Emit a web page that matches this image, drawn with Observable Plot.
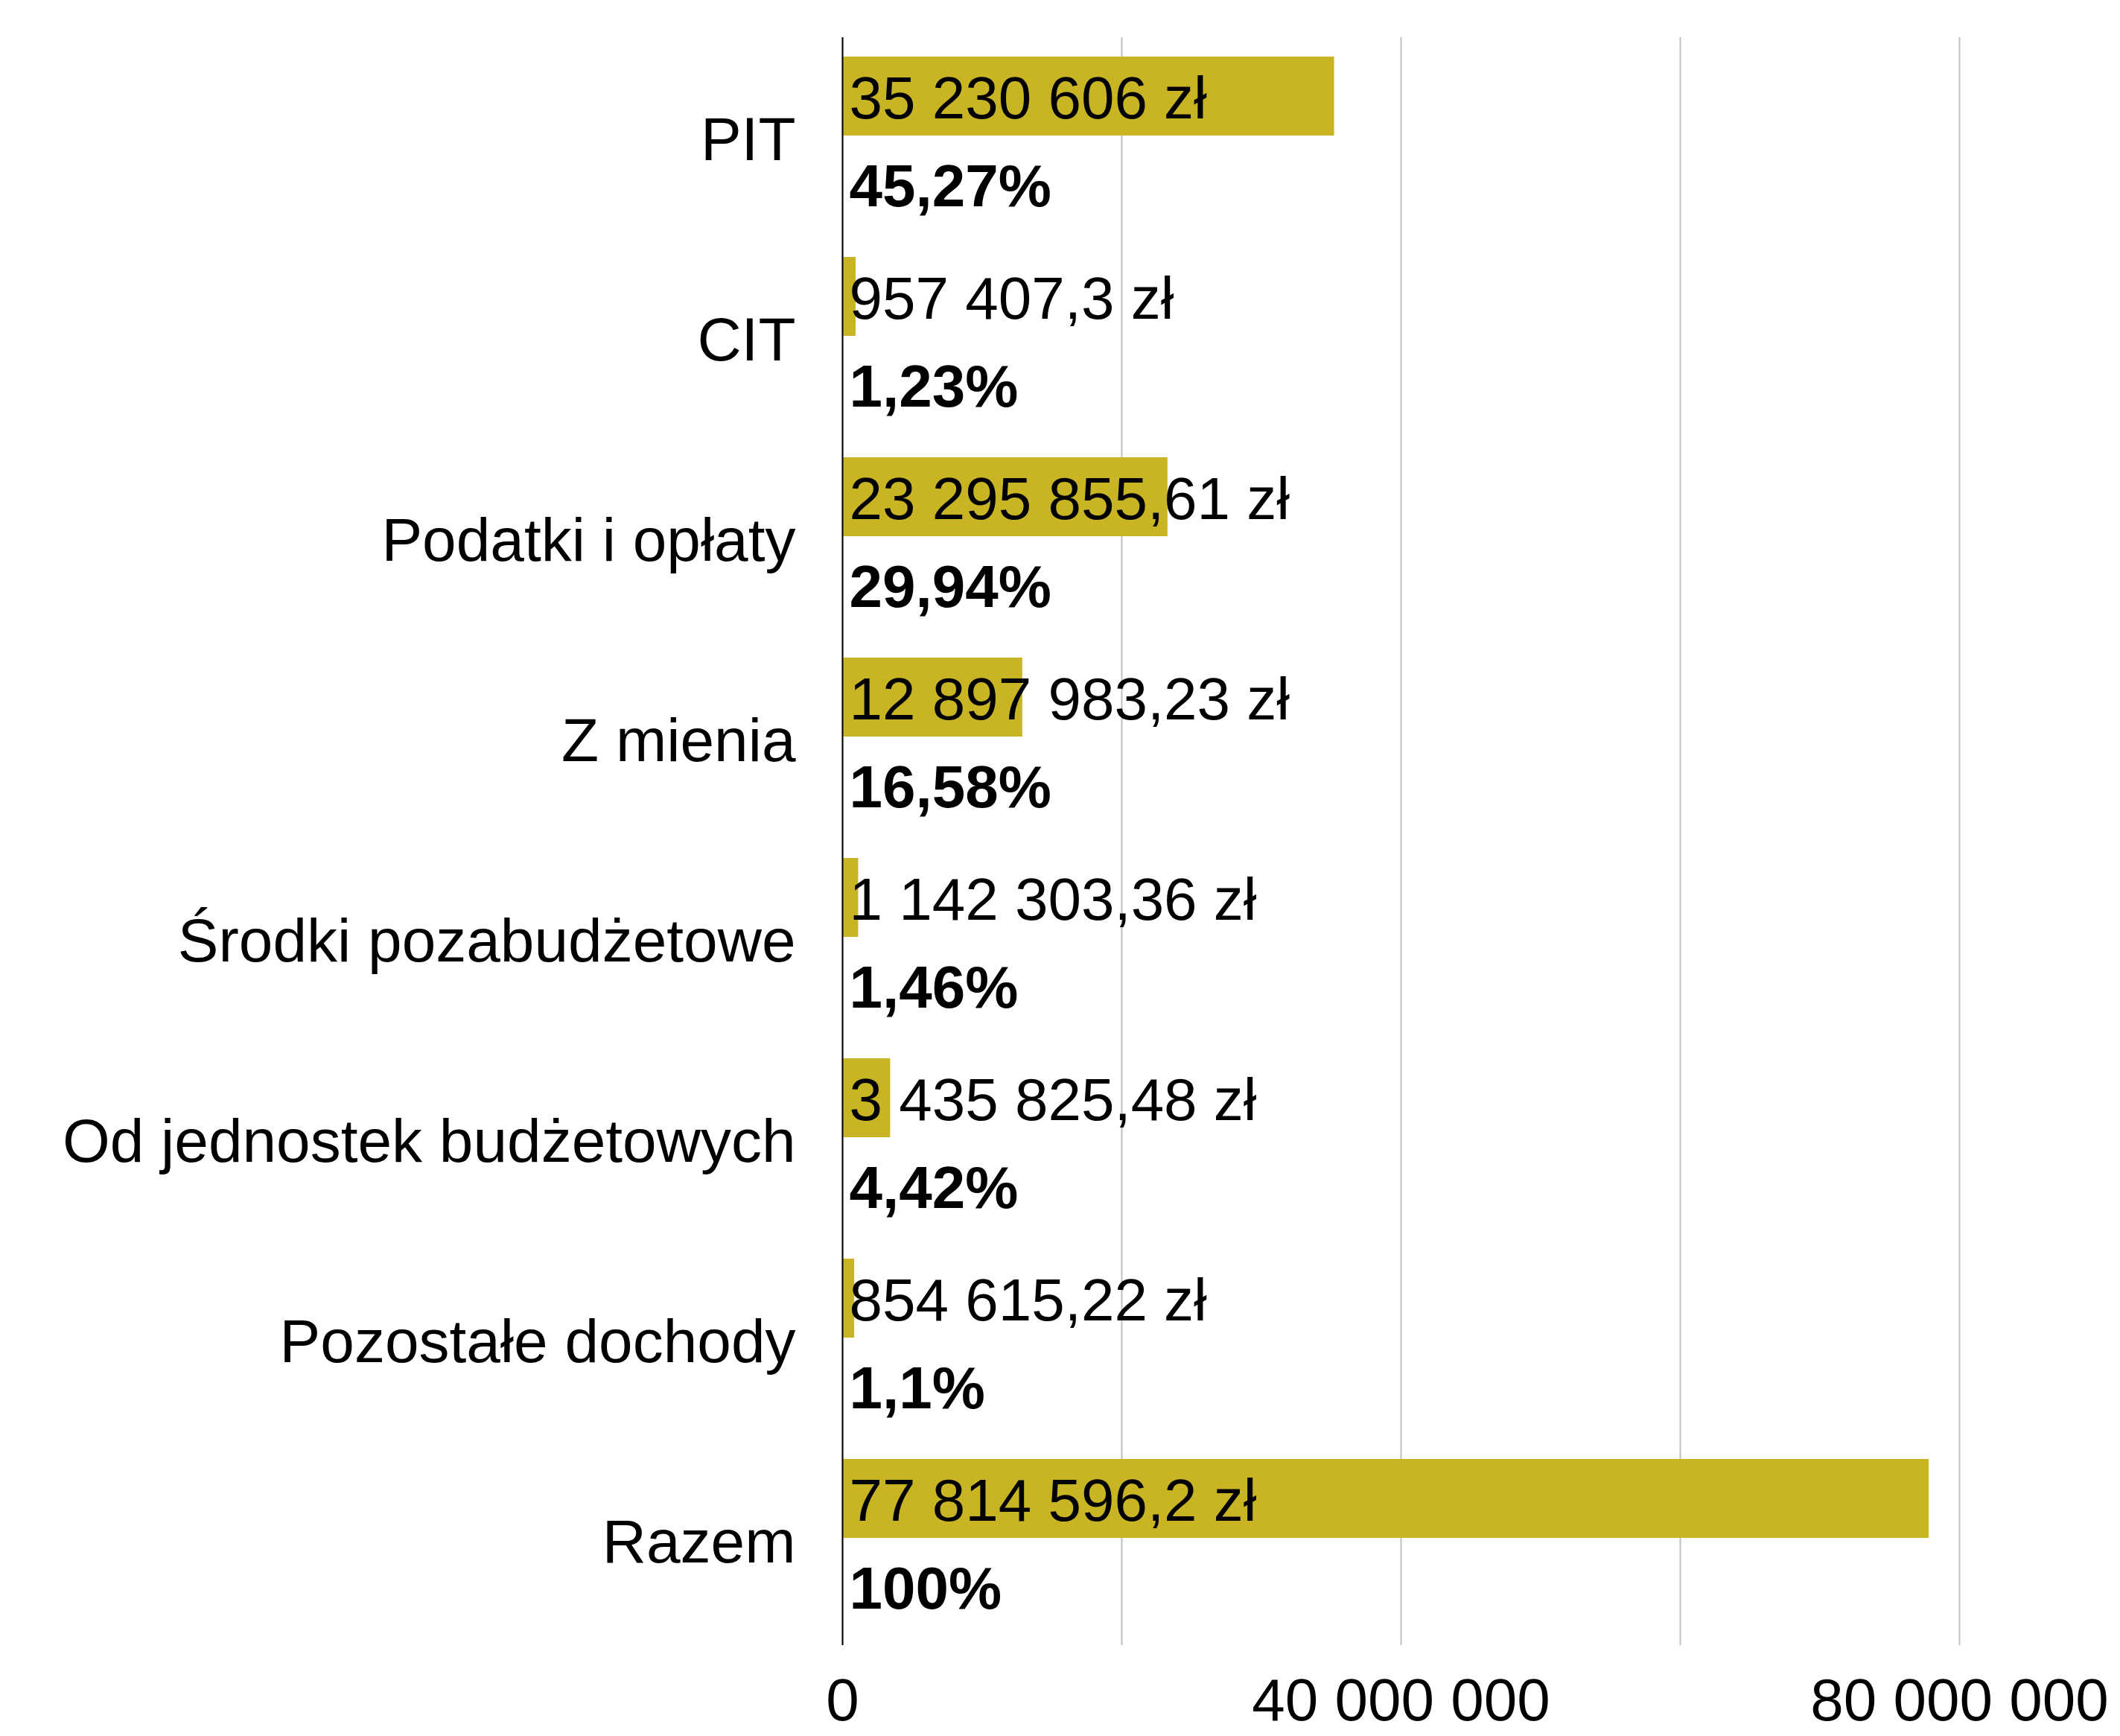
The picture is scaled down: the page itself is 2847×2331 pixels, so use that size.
<!DOCTYPE html>
<html>
<head>
<meta charset="utf-8">
<script src="https://cdn.jsdelivr.net/npm/d3@7"></script>
<script src="https://cdn.jsdelivr.net/npm/@observablehq/plot@0.6"></script>
<style>
  html, body { margin: 0; padding: 0; background: #fff; }
  #chart svg { display: block; }
</style>
</head>
<body>
<div id="chart"></div>
<script>
const categories = ["PIT", "CIT", "Podatki i opłaty", "Z mienia", "Środki pozabudżetowe", "Od jednostek budżetowych", "Pozostałe dochody", "Razem"];
const values = [35230606, 957407.3, 23295855.61, 12897983.23, 1142303.36, 3435825.48, 854615.22, 77814596.2];
const shares = [45.27, 1.23, 29.94, 16.58, 1.46, 4.42, 1.1, 100];
const gridTicks = [0, 20000000, 40000000, 60000000, 80000000];
const labelTicks = [0, 40000000, 80000000];

const pl = d3.formatLocale({decimal: ",", thousands: " ", grouping: [3], currency: ["", " zł"]});
const fmtNum = pl.format(",.2~f");
const fmtTick = pl.format(",d");

const data = categories.map((c, i) => ({
  category: c,
  value: values[i],
  share: shares[i],
  valueLabel: fmtNum(values[i]) + " zł",
  shareLabel: fmtNum(shares[i]) + "%"
}));

const FS = 80;
const chart = Plot.plot({
  width: 2847,
  height: 2331,
  marginTop: 50,
  marginBottom: 122,
  marginLeft: 1131,
  marginRight: 216,
  style: {fontFamily: "'Liberation Sans', Arial, Helvetica, sans-serif", fontSize: FS + "px", color: "#000", background: "#fff"},
  x: {domain: [0, 80000000]},
  y: {domain: categories, padding: 0},
  marks: [
    Plot.gridX(gridTicks, {stroke: "#c0c0c0", strokeOpacity: 1, strokeWidth: 2}),
    Plot.barX(data, {x: "value", y: "category", fill: "#c9b424", insetTop: 22, insetBottom: 141}),
    Plot.ruleX([0], {stroke: "#000", strokeWidth: 2}),
    Plot.text(data, {x: 0, y: "category", text: "valueLabel", textAnchor: "start", dx: 9, dy: -56, fontSize: FS, fill: "#000"}),
    Plot.text(data, {x: 0, y: "category", text: "shareLabel", textAnchor: "start", dx: 9, dy: 62, fontSize: FS, fontWeight: "bold", fill: "#000"}),
    Plot.axisY({tickSize: 0, tickPadding: 63, fontSize: 82, label: null}),
    Plot.axisX({ticks: labelTicks, tickFormat: fmtTick, tickSize: 0, tickPadding: 44, fontSize: FS, label: null})
  ]
});
document.getElementById("chart").appendChild(chart);
</script>
</body>
</html>
